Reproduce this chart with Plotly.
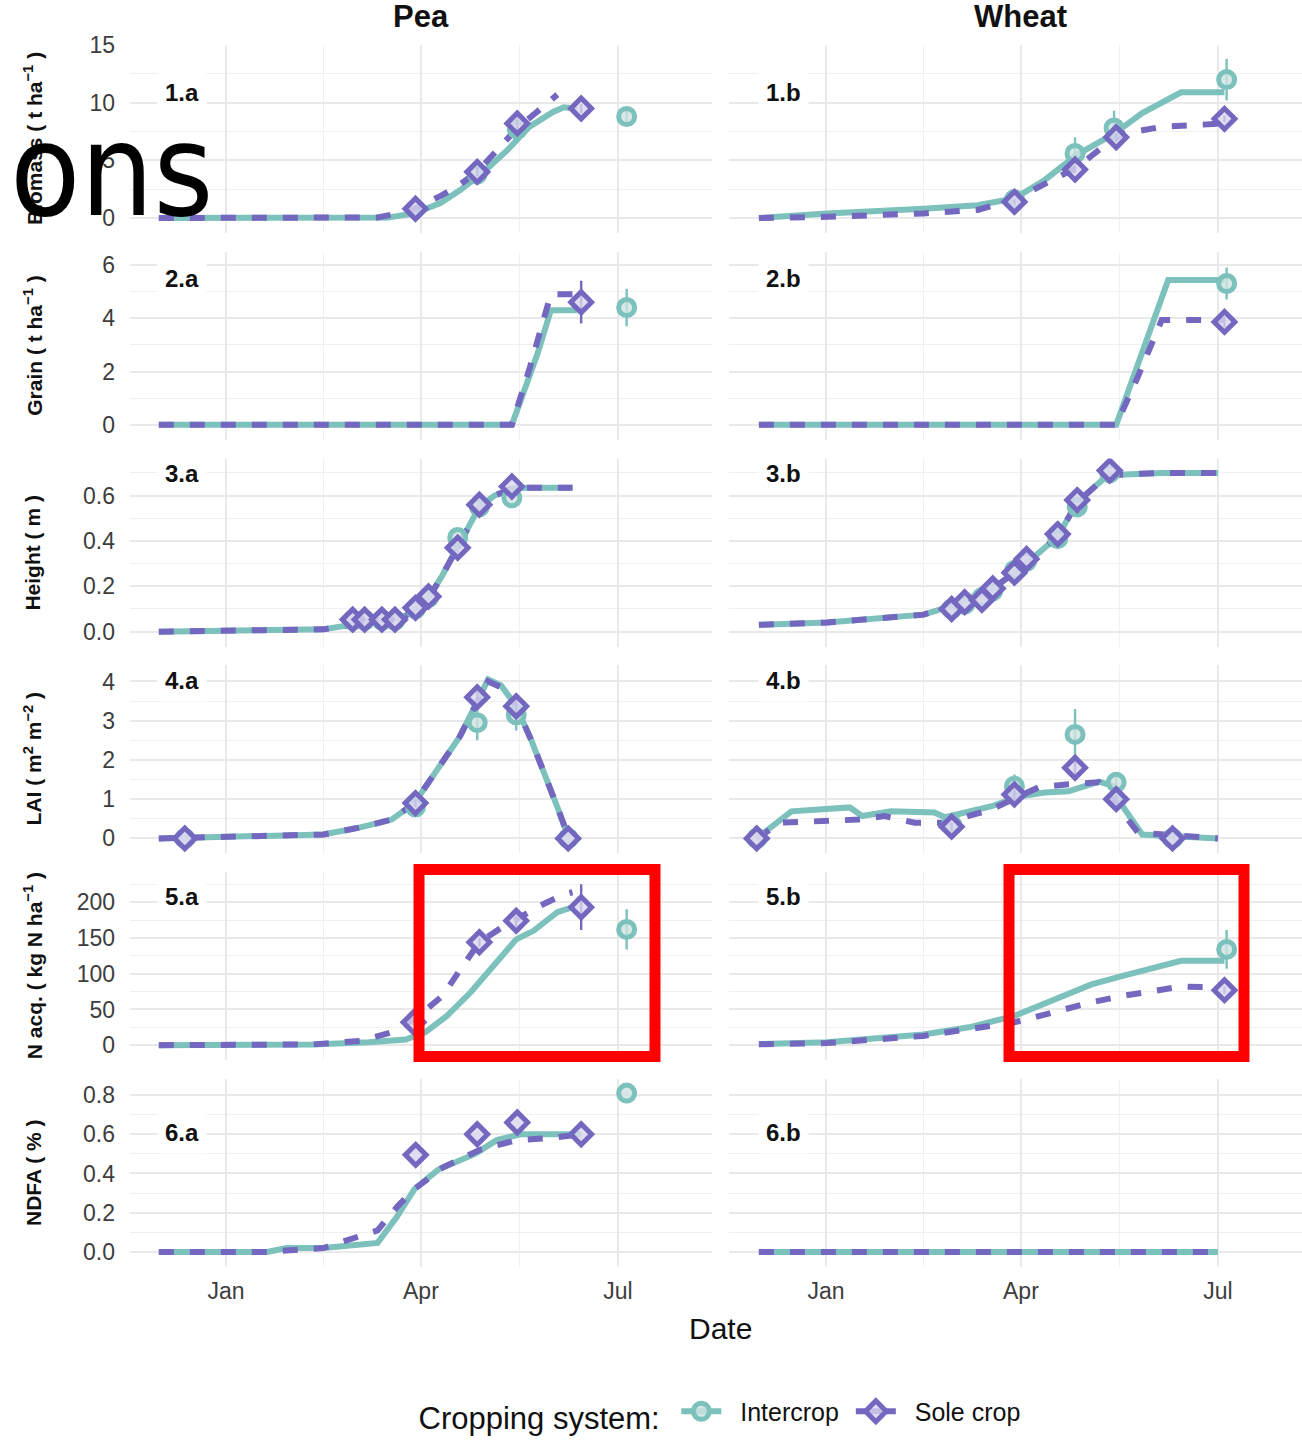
import pandas as pd
import plotly.graph_objects as go

# ---------------- data (x = days from 1 Jan 2006; negative = Dec 2005) ----------------
BASE = pd.Timestamp("2006-01-01")

# Row 1: Biomass (t ha-1)
pea_bio_ic_day = [-31, 75, 87, 99, 108, 119, 130, 140, 151, 156, 162]
pea_bio_ic_val = [0, 0.05, 0.4, 1.3, 2.4, 4.0, 5.9, 7.9, 9.2, 9.6, 9.5]
pea_bio_sc_day = [-31, 70, 78, 87, 100, 108, 116, 127, 135, 141, 147, 153]
pea_bio_sc_val = [0, 0.05, 0.35, 0.8, 2.0, 2.9, 4.0, 6.2, 7.9, 8.8, 9.8, 10.7]
pea_bio_ic_obs_day = [116, 134.5, 185]
pea_bio_ic_obs_val = [3.8, 7.7, 8.8]
pea_bio_ic_obs_err = [0.3, 0.5, 0.6]
pea_bio_sc_obs_day = [87.5, 116, 134.5, 164]
pea_bio_sc_obs_val = [0.8, 4.0, 8.2, 9.5]
pea_bio_sc_obs_err = [0.2, 0.4, 0.6, 0.4]

wht_bio_ic_day = [-31, 0.5, 45, 70, 87, 101, 116, 133, 146, 164, 184]
wht_bio_ic_val = [0, 0.4, 0.8, 1.1, 1.7, 3.3, 5.5, 7.3, 9.1, 10.9, 10.9]
wht_bio_sc_day = [-31, 0.5, 45, 70, 87, 101, 116, 128, 137, 155, 184]
wht_bio_sc_val = [0, 0.1, 0.4, 0.7, 1.6, 2.9, 4.4, 6.2, 7.3, 7.9, 8.2]
wht_bio_ic_obs_day = [87, 115, 133, 185]
wht_bio_ic_obs_val = [1.6, 5.6, 7.8, 12.0]
wht_bio_ic_obs_err = [0.3, 1.4, 1.5, 1.8]
wht_bio_sc_obs_day = [87, 115, 134, 184]
wht_bio_sc_obs_val = [1.4, 4.2, 7.0, 8.6]
wht_bio_sc_obs_err = [0.2, 0.3, 0.4, 0.3]

# Row 2: Grain (t ha-1)
pea_grn_ic_day = [-31, 132, 144, 150, 162]
pea_grn_ic_val = [0, 0, 2.7, 4.3, 4.3]
pea_grn_sc_day = [-31, 132, 140.5, 150, 161]
pea_grn_sc_val = [0, 0, 2.2, 4.9, 4.9]
pea_grn_ic_obs_day = [185]
pea_grn_ic_obs_val = [4.4]
pea_grn_ic_obs_err = [0.7]
pea_grn_sc_obs_day = [164]
pea_grn_sc_obs_val = [4.6]
pea_grn_sc_obs_err = [0.8]

wht_grn_ic_day = [-31, 134, 158, 184]
wht_grn_ic_val = [0, 0, 5.43, 5.43]
wht_grn_sc_day = [-31, 134, 144, 155, 184]
wht_grn_sc_val = [0, 0, 1.8, 3.93, 3.93]
wht_grn_ic_obs_day = [185]
wht_grn_ic_obs_val = [5.3]
wht_grn_ic_obs_err = [0.6]
wht_grn_sc_obs_day = [184]
wht_grn_sc_obs_val = [3.86]
wht_grn_sc_obs_err = [0.2]

# Row 3: Height (m)
pea_hgt_ic_day = [-31, 45, 58, 72, 83, 88, 94, 100, 106, 112, 117, 124, 132, 140, 160]
pea_hgt_ic_val = [0, 0.01, 0.03, 0.05, 0.07, 0.1, 0.155, 0.25, 0.36, 0.47, 0.55, 0.6, 0.63, 0.635, 0.635]
pea_hgt_sc_day = [-31, 45, 58, 72, 83, 88, 94, 100, 106, 112, 117, 124, 132, 140, 160]
pea_hgt_sc_val = [0, 0.01, 0.03, 0.05, 0.07, 0.1, 0.155, 0.25, 0.36, 0.47, 0.55, 0.6, 0.63, 0.635, 0.635]
pea_hgt_ic_obs_day = [58.5, 64, 72, 78, 87.5, 93.5, 107, 117, 132]
pea_hgt_ic_obs_val = [0.05, 0.05, 0.05, 0.05, 0.1, 0.15, 0.415, 0.55, 0.59]
pea_hgt_ic_obs_err = [0, 0, 0, 0, 0, 0, 0, 0, 0]
pea_hgt_sc_obs_day = [58.5, 64, 72, 78, 87.5, 93.5, 107, 117, 132]
pea_hgt_sc_obs_val = [0.053, 0.053, 0.053, 0.053, 0.105, 0.155, 0.37, 0.56, 0.64]
pea_hgt_sc_obs_err = [0, 0, 0, 0, 0, 0, 0, 0, 0]

wht_hgt_ic_day = [-31, 0.5, 45, 57, 76.5, 92.6, 107, 116, 130, 155, 181]
wht_hgt_ic_val = [0.03, 0.04, 0.075, 0.11, 0.186, 0.3, 0.42, 0.57, 0.69, 0.70, 0.70]
wht_hgt_sc_day = [-31, 0.5, 45, 57, 76.5, 92.6, 107, 116, 130, 155, 181]
wht_hgt_sc_val = [0.03, 0.04, 0.075, 0.11, 0.186, 0.3, 0.42, 0.57, 0.69, 0.70, 0.70]
wht_hgt_ic_obs_day = [58, 64, 72, 77, 87, 92.6, 107, 116, 131]
wht_hgt_ic_obs_val = [0.10, 0.12, 0.15, 0.18, 0.27, 0.31, 0.41, 0.55, 0.70]
wht_hgt_ic_obs_err = [0, 0, 0, 0, 0, 0, 0, 0, 0]
wht_hgt_sc_obs_day = [58, 64, 72, 77, 87, 92.6, 107, 116, 131]
wht_hgt_sc_obs_val = [0.10, 0.13, 0.14, 0.19, 0.26, 0.32, 0.43, 0.58, 0.71]
wht_hgt_sc_obs_err = [0, 0, 0, 0, 0, 0, 0, 0, 0]

# Row 4: LAI (m2 m-2)
pea_lai_ic_day = [-31, 45, 62, 76.5, 87, 100, 108, 115, 121, 127, 134, 141, 147, 153, 158]
pea_lai_ic_val = [0, 0.1, 0.28, 0.48, 0.9, 1.94, 2.6, 3.37, 4.05, 3.9, 3.37, 2.5, 1.7, 0.8, 0.05]
pea_lai_sc_day = [-31, 45, 62, 76.5, 87, 100, 108, 115, 121, 127, 134, 141, 147, 153, 158]
pea_lai_sc_val = [0, 0.1, 0.28, 0.48, 0.9, 1.94, 2.6, 3.37, 4.0, 3.85, 3.37, 2.5, 1.7, 0.8, 0.05]
pea_lai_ic_obs_day = [-19, 87.5, 116, 134, 158]
pea_lai_ic_obs_val = [0, 0.8, 2.95, 3.15, 0]
pea_lai_ic_obs_err = [0, 0.1, 0.45, 0.4, 0]
pea_lai_sc_obs_day = [-19, 87.5, 116, 134, 158]
pea_lai_sc_obs_val = [0, 0.9, 3.6, 3.37, 0]
pea_lai_sc_obs_err = [0, 0.1, 0.3, 0.2, 0]

wht_lai_ic_day = [-32, -16, 11, 16.6, 30, 50, 55, 76.5, 89, 101, 112, 126, 133, 137, 146, 181]
wht_lai_ic_val = [0, 0.69, 0.79, 0.57, 0.69, 0.66, 0.54, 0.82, 1.07, 1.17, 1.2, 1.45, 1.33, 0.82, 0.1, 0]
wht_lai_sc_day = [-32, -21, 15, 27, 41, 55, 76.5, 98, 112, 126, 133, 144, 181]
wht_lai_sc_val = [0, 0.4, 0.48, 0.57, 0.4, 0.4, 0.74, 1.3, 1.38, 1.43, 0.95, 0.15, 0]
wht_lai_ic_obs_day = [-32, 58, 87, 115, 134, 160]
wht_lai_ic_obs_val = [0, 0.35, 1.33, 2.65, 1.43, 0]
wht_lai_ic_obs_err = [0, 0.05, 0.3, 0.65, 0.2, 0]
wht_lai_sc_obs_day = [-32, 58, 87, 115, 134, 160]
wht_lai_sc_obs_val = [0, 0.3, 1.12, 1.8, 1.0, 0]
wht_lai_sc_obs_err = [0, 0.1, 0.15, 0.2, 0.1, 0]

# Row 5: N acquired (kg N ha-1)
pea_nac_ic_day = [-31, 40, 66, 83, 92, 102, 113, 123.5, 134, 142, 153, 160]
pea_nac_ic_val = [0, 1, 4, 8, 18, 41, 74, 111, 148, 160, 186, 193]
pea_nac_sc_day = [-31, 40, 62, 76.5, 87, 100, 108, 117, 126, 134, 145, 156, 160]
pea_nac_sc_val = [0, 1, 6, 18, 36, 69, 105, 144, 162, 176, 195, 211, 214]
pea_nac_ic_obs_day = [185]
pea_nac_ic_obs_val = [162]
pea_nac_ic_obs_err = [28]
pea_nac_sc_obs_day = [86.6, 117, 134, 164]
pea_nac_sc_obs_val = [32, 144, 174, 193]
pea_nac_sc_obs_err = [3, 6, 8, 32]

wht_nac_ic_day = [-31, 0.5, 45, 66, 87, 105, 122.6, 137, 164, 184]
wht_nac_ic_val = [1.4, 4, 15, 25, 41, 64, 85, 97, 118, 118]
wht_nac_sc_day = [-31, 0.5, 45, 66, 87, 105, 122.6, 137, 164, 179]
wht_nac_sc_val = [1.4, 3, 13, 22, 32, 46, 60, 69, 82, 81]
wht_nac_ic_obs_day = [185]
wht_nac_ic_obs_val = [134]
wht_nac_ic_obs_err = [27]
wht_nac_sc_obs_day = [184]
wht_nac_sc_obs_val = [77]
wht_nac_sc_obs_err = [5]

# Row 6: NDFA (%)
pea_ndf_ic_day = [-31, 19, 28, 45, 70, 79, 87, 98, 115, 125, 136, 164]
pea_ndf_ic_val = [0, 0, 0.02, 0.02, 0.046, 0.18, 0.32, 0.42, 0.5, 0.57, 0.6, 0.6]
pea_ndf_sc_day = [-31, 19, 45, 59.5, 70, 79, 87, 100, 117, 134, 149, 164]
pea_ndf_sc_val = [0, 0, 0.02, 0.07, 0.11, 0.23, 0.32, 0.43, 0.52, 0.57, 0.58, 0.6]
pea_ndf_ic_obs_day = [185]
pea_ndf_ic_obs_val = [0.81]
pea_ndf_ic_obs_err = [0]
pea_ndf_sc_obs_day = [87.6, 116, 134.5, 164]
pea_ndf_sc_obs_val = [0.495, 0.6, 0.66, 0.6]
pea_ndf_sc_obs_err = [0, 0, 0, 0]

wht_ndf_ic_day = [-31, 181]
wht_ndf_ic_val = [0, 0]
wht_ndf_sc_day = [-31, 181]
wht_ndf_sc_val = [0, 0]

crops = ["Pea", "Wheat"]
row_titles = ["Biomass ( t ha<sup>−1</sup> )", "Grain ( t ha<sup>−1</sup> )", "Height ( m )",
              "LAI ( m<sup>2</sup> m<sup>−2</sup> )", "N acq. ( kg N ha<sup>−1</sup> )", "NDFA ( % )"]
panel_tags = [["1.a", "1.b"], ["2.a", "2.b"], ["3.a", "3.b"], ["4.a", "4.b"], ["5.a", "5.b"], ["6.a", "6.b"]]
month_ticks = ["2006-01-01", "2006-04-01", "2006-07-01"]
month_text = ["Jan", "Apr", "Jul"]
legend_labels = ["Intercrop", "Sole crop"]

panels = [
    [dict(ic=(pea_bio_ic_day, pea_bio_ic_val), sc=(pea_bio_sc_day, pea_bio_sc_val),
          ico=(pea_bio_ic_obs_day, pea_bio_ic_obs_val, pea_bio_ic_obs_err),
          sco=(pea_bio_sc_obs_day, pea_bio_sc_obs_val, pea_bio_sc_obs_err)),
     dict(ic=(wht_bio_ic_day, wht_bio_ic_val), sc=(wht_bio_sc_day, wht_bio_sc_val),
          ico=(wht_bio_ic_obs_day, wht_bio_ic_obs_val, wht_bio_ic_obs_err),
          sco=(wht_bio_sc_obs_day, wht_bio_sc_obs_val, wht_bio_sc_obs_err))],
    [dict(ic=(pea_grn_ic_day, pea_grn_ic_val), sc=(pea_grn_sc_day, pea_grn_sc_val),
          ico=(pea_grn_ic_obs_day, pea_grn_ic_obs_val, pea_grn_ic_obs_err),
          sco=(pea_grn_sc_obs_day, pea_grn_sc_obs_val, pea_grn_sc_obs_err)),
     dict(ic=(wht_grn_ic_day, wht_grn_ic_val), sc=(wht_grn_sc_day, wht_grn_sc_val),
          ico=(wht_grn_ic_obs_day, wht_grn_ic_obs_val, wht_grn_ic_obs_err),
          sco=(wht_grn_sc_obs_day, wht_grn_sc_obs_val, wht_grn_sc_obs_err))],
    [dict(ic=(pea_hgt_ic_day, pea_hgt_ic_val), sc=(pea_hgt_sc_day, pea_hgt_sc_val),
          ico=(pea_hgt_ic_obs_day, pea_hgt_ic_obs_val, pea_hgt_ic_obs_err),
          sco=(pea_hgt_sc_obs_day, pea_hgt_sc_obs_val, pea_hgt_sc_obs_err)),
     dict(ic=(wht_hgt_ic_day, wht_hgt_ic_val), sc=(wht_hgt_sc_day, wht_hgt_sc_val),
          ico=(wht_hgt_ic_obs_day, wht_hgt_ic_obs_val, wht_hgt_ic_obs_err),
          sco=(wht_hgt_sc_obs_day, wht_hgt_sc_obs_val, wht_hgt_sc_obs_err))],
    [dict(ic=(pea_lai_ic_day, pea_lai_ic_val), sc=(pea_lai_sc_day, pea_lai_sc_val),
          ico=(pea_lai_ic_obs_day, pea_lai_ic_obs_val, pea_lai_ic_obs_err),
          sco=(pea_lai_sc_obs_day, pea_lai_sc_obs_val, pea_lai_sc_obs_err)),
     dict(ic=(wht_lai_ic_day, wht_lai_ic_val), sc=(wht_lai_sc_day, wht_lai_sc_val),
          ico=(wht_lai_ic_obs_day, wht_lai_ic_obs_val, wht_lai_ic_obs_err),
          sco=(wht_lai_sc_obs_day, wht_lai_sc_obs_val, wht_lai_sc_obs_err))],
    [dict(ic=(pea_nac_ic_day, pea_nac_ic_val), sc=(pea_nac_sc_day, pea_nac_sc_val),
          ico=(pea_nac_ic_obs_day, pea_nac_ic_obs_val, pea_nac_ic_obs_err),
          sco=(pea_nac_sc_obs_day, pea_nac_sc_obs_val, pea_nac_sc_obs_err)),
     dict(ic=(wht_nac_ic_day, wht_nac_ic_val), sc=(wht_nac_sc_day, wht_nac_sc_val),
          ico=(wht_nac_ic_obs_day, wht_nac_ic_obs_val, wht_nac_ic_obs_err),
          sco=(wht_nac_sc_obs_day, wht_nac_sc_obs_val, wht_nac_sc_obs_err))],
    [dict(ic=(pea_ndf_ic_day, pea_ndf_ic_val), sc=(pea_ndf_sc_day, pea_ndf_sc_val),
          ico=(pea_ndf_ic_obs_day, pea_ndf_ic_obs_val, pea_ndf_ic_obs_err),
          sco=(pea_ndf_sc_obs_day, pea_ndf_sc_obs_val, pea_ndf_sc_obs_err)),
     dict(ic=(wht_ndf_ic_day, wht_ndf_ic_val), sc=(wht_ndf_sc_day, wht_ndf_sc_val),
          ico=None, sco=None)],
]

# ---------------- styling / layout ----------------
W, H = 1302, 1440
FONT = "Liberation Sans, Arial, sans-serif"
TEAL = "#7cc1bc"
PURPLE = "#7367c0"
TEAL_FILL = "rgba(205,226,225,0.8)"
PURPLE_FILL = "rgba(218,214,238,0.8)"
GRID = "#e9e9e9"
GRID_MINOR = "#f0f0f0"
TICK_COL = "#3d3d3d"
LW = 6

col_px = [(130, 712), (729, 1302)]
x_range_days = [(-44.3, 224.4), (-44.8, 219.8)]
row_top = [45 + 206.8 * r for r in range(6)]
PANEL_H = 188
y_ranges = [(-1.30, 15.0), (-0.562, 6.49), (-0.066, 0.763), (-0.382, 4.41), (-21.0, 242.0), (-0.077, 0.882)]
y_dticks = [5, 2, 0.2, 1, 50, 0.2]
y_formats = ["", "", ".1f", "", "", ".1f"]
tag_y_px = [93, 279, 474, 680, 896, 1132]
tag_x_px = [182, 783]


def to_dates(days):
    return [BASE + pd.Timedelta(days=float(v)) for v in days]


fig = go.Figure()
layout = {}
annotations = []

for r in range(6):
    for c in range(2):
        k = r * 2 + c + 1
        xa = "x" if k == 1 else f"x{k}"
        ya = "y" if k == 1 else f"y{k}"
        p = panels[r][c]
        fig.add_trace(go.Scatter(x=to_dates(p["ic"][0]), y=p["ic"][1], mode="lines",
                                 line=dict(color=TEAL, width=LW), xaxis=xa, yaxis=ya,
                                 showlegend=False, hoverinfo="skip"))
        fig.add_trace(go.Scatter(x=to_dates(p["sc"][0]), y=p["sc"][1], mode="lines",
                                 line=dict(color=PURPLE, width=LW, dash="15px,16px"), xaxis=xa, yaxis=ya,
                                 showlegend=False, hoverinfo="skip"))
        if p["ico"] is not None:
            fig.add_trace(go.Scatter(x=to_dates(p["ico"][0]), y=p["ico"][1], mode="markers",
                                     marker=dict(symbol="circle", size=16, color=TEAL_FILL,
                                                 line=dict(color=TEAL, width=5)),
                                     error_y=dict(type="data", array=p["ico"][2], visible=True,
                                                  thickness=2.4, width=0, color=TEAL),
                                     xaxis=xa, yaxis=ya, showlegend=False))
        if p["sco"] is not None:
            fig.add_trace(go.Scatter(x=to_dates(p["sco"][0]), y=p["sco"][1], mode="markers",
                                     marker=dict(symbol="diamond", size=16, color=PURPLE_FILL,
                                                 line=dict(color=PURPLE, width=5)),
                                     error_y=dict(type="data", array=p["sco"][2], visible=True,
                                                  thickness=2.4, width=0, color=PURPLE),
                                     xaxis=xa, yaxis=ya, showlegend=False))

        x0, x1 = col_px[c]
        top = row_top[r]
        bot = top + PANEL_H
        xr = x_range_days[c]
        layout["xaxis" if k == 1 else f"xaxis{k}"] = dict(
            type="date", domain=[x0 / W, x1 / W], anchor=ya, automargin=False,
            range=[BASE + pd.Timedelta(days=xr[0]), BASE + pd.Timedelta(days=xr[1])],
            tickmode="array", tickvals=month_ticks, ticktext=month_text,
            showticklabels=(r == 5), ticks="", ticklabelstandoff=8,
            tickfont=dict(family=FONT, size=23, color=TICK_COL),
            showgrid=True, gridcolor=GRID, gridwidth=2, zeroline=False, showline=False,
            minor=dict(tickmode="array", tickvals=["2006-02-15", "2006-05-16 12:00"],
                       showgrid=True, gridcolor=GRID_MINOR, gridwidth=1.3),
        )
        layout["yaxis" if k == 1 else f"yaxis{k}"] = dict(
            domain=[1 - bot / H, 1 - top / H], anchor=xa, automargin=False,
            range=list(y_ranges[r]), tick0=0, dtick=y_dticks[r], tickformat=y_formats[r],
            showticklabels=(c == 0), ticks="", ticklabelstandoff=14,
            tickfont=dict(family=FONT, size=23, color=TICK_COL),
            showgrid=True, gridcolor=GRID, gridwidth=2, zeroline=False, showline=False,
            minor=dict(tick0=0, dtick=y_dticks[r] / 2, showgrid=True, gridcolor=GRID_MINOR, gridwidth=1.3),
        )
        annotations.append(dict(text=f"<b>{panel_tags[r][c]}</b>", xref="paper", yref="paper",
                                x=tag_x_px[c] / W, y=1 - tag_y_px[r] / H, showarrow=False,
                                xanchor="center", yanchor="middle", bgcolor="white", borderpad=7,
                                font=dict(family=FONT, size=24, color="#111")))
    annotations.append(dict(text=f"<b>{row_titles[r]}</b>", xref="paper", yref="paper",
                            x=33 / W, y=1 - (row_top[r] + PANEL_H / 2) / H, showarrow=False,
                            textangle=-90, xanchor="center", yanchor="middle",
                            font=dict(family=FONT, size=21, color="#111")))

for c, name in enumerate(crops):
    annotations.append(dict(text=f"<b>{name}</b>", xref="paper", yref="paper",
                            x=(col_px[c][0] + 291) / W, y=1 - 17 / H, showarrow=False,
                            xanchor="center", yanchor="middle",
                            font=dict(family=FONT, size=31, color="#111")))

annotations.append(dict(text="Date", xref="paper", yref="paper", x=720 / W, y=1 - 1328 / H,
                        showarrow=False, xanchor="center", yanchor="middle",
                        font=dict(family=FONT, size=30, color="#111")))
annotations.append(dict(text="ons", xref="paper", yref="paper", x=8 / W, y=1 - 170 / H,
                        showarrow=False, xanchor="left", yanchor="middle",
                        font=dict(family="DejaVu Sans Condensed, DejaVu Sans", size=128, color="black")))

NB = "\u00a0"
fig.add_trace(go.Scatter(x=[None], y=[None], mode="lines+markers",
                         name=NB * 2 + legend_labels[0] + NB,
                         line=dict(color=TEAL, width=LW),
                         marker=dict(symbol="circle", size=16, color=TEAL_FILL, line=dict(color=TEAL, width=5)),
                         xaxis="x11", yaxis="y11"))
fig.add_trace(go.Scatter(x=[None], y=[None], mode="lines+markers",
                         name=NB * 2 + legend_labels[1],
                         line=dict(color=PURPLE, width=LW),
                         marker=dict(symbol="diamond", size=16, color=PURPLE_FILL, line=dict(color=PURPLE, width=5)),
                         xaxis="x11", yaxis="y11"))

shapes = []
for (x0, x1) in [(419, 655), (1009, 1244)]:
    shapes.append(dict(type="rect", xref="paper", yref="paper",
                       x0=x0 / W, x1=x1 / W, y0=1 - 1056.5 / H, y1=1 - 869.5 / H,
                       line=dict(color="#ff0000", width=11), fillcolor="rgba(0,0,0,0)", layer="above"))

fig.update_layout(
    width=W, height=H, margin=dict(l=0, r=0, t=0, b=0, autoexpand=False),
    paper_bgcolor="white", plot_bgcolor="white",
    font=dict(family=FONT, color="#111"),
    annotations=annotations, shapes=shapes,
    legend=dict(orientation="h", x=721 / W, xanchor="center", y=1 - 1414 / H, yanchor="middle",
                title=dict(text="Cropping system:" + NB, font=dict(family=FONT, size=31, color="#111")),
                font=dict(family=FONT, size=25, color="#111"), itemwidth=40,
                bgcolor="rgba(0,0,0,0)"),
    **layout,
)

fig.write_html("out.html")
